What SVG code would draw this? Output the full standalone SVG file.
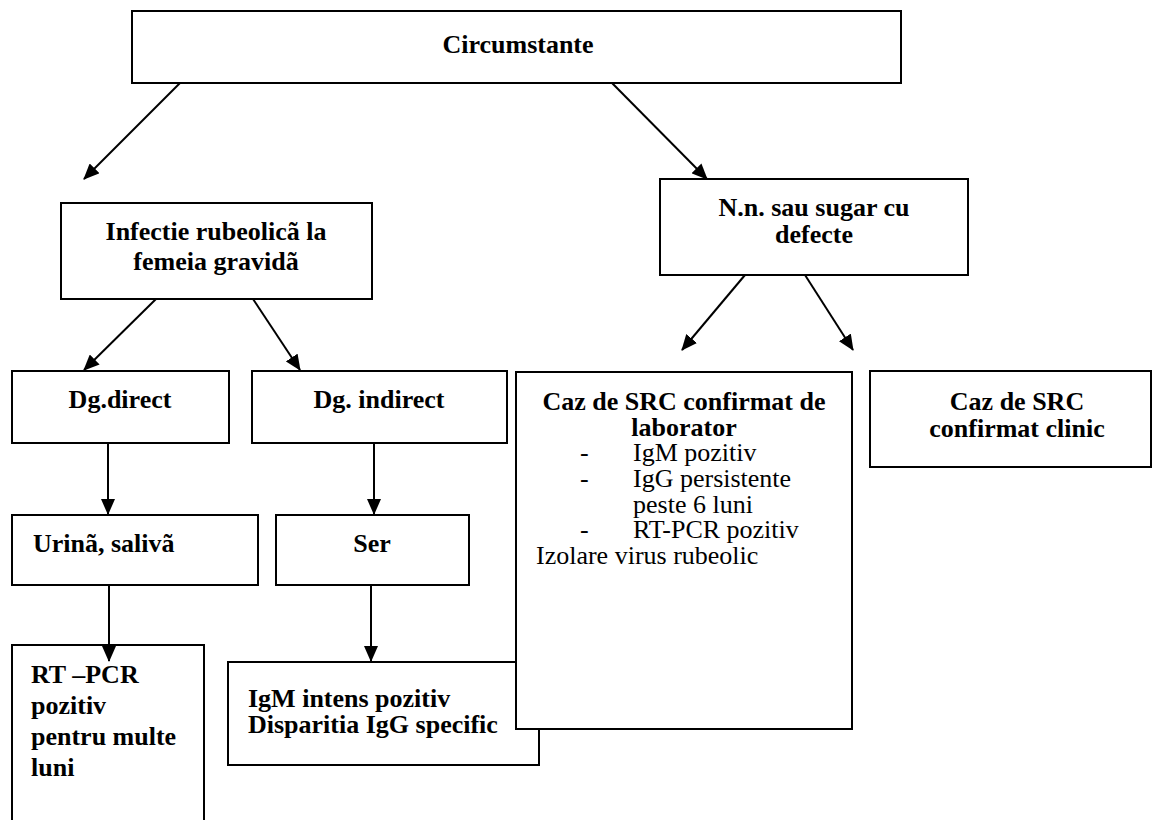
<svg xmlns="http://www.w3.org/2000/svg" width="1152" height="820" viewBox="0 0 1152 820">
<style>
.box{fill:#fff;stroke:#000;stroke-width:2}
.t{font-family:"Liberation Serif","Times New Roman",serif;font-size:26px;fill:#000}
.b{font-weight:bold}
.c{text-anchor:middle}
.ln{stroke:#000;stroke-width:2;fill:none}
</style>
<defs>
<marker id="ah" markerUnits="userSpaceOnUse" markerWidth="16" markerHeight="14" refX="15" refY="7" orient="auto">
<path d="M0,0 L16,7 L0,14 Z" fill="#000"/>
</marker>
</defs>
<rect width="1152" height="820" fill="#fff"/>
<g id="n-top">
<rect class="box" x="132" y="11" width="769" height="72"/>
<text class="t b c" x="518" y="53">Circumstante</text>
</g>
<g id="n-infectie">
<rect class="box" x="61" y="203" width="311" height="96"/>
<text class="t b c" x="216" y="240">Infectie rubeolicã la</text>
<text class="t b c" x="216" y="270">femeia gravidã</text>
</g>
<g id="n-nn">
<rect class="box" x="660" y="179" width="308" height="96"/>
<text class="t b c" x="814" y="216">N.n. sau sugar cu</text>
<text class="t b c" x="814" y="243">defecte</text>
</g>
<g id="n-dgdirect">
<rect class="box" x="12" y="371" width="217" height="72"/>
<text class="t b c" x="120" y="408">Dg.direct</text>
</g>
<g id="n-dgindirect">
<rect class="box" x="252" y="371" width="255" height="72"/>
<text class="t b c" x="379" y="408">Dg. indirect</text>
</g>
<g id="n-urina">
<rect class="box" x="12" y="515" width="246" height="70"/>
<text class="t b" x="33" y="552">Urinã, salivã</text>
</g>
<g id="n-ser">
<rect class="box" x="276" y="515" width="193" height="70"/>
<text class="t b c" x="372" y="552">Ser</text>
</g>
<g id="n-rtpcr">
<rect class="box" x="12" y="645" width="192" height="190"/>
<text class="t b" x="31" y="683">RT –PCR</text>
<text class="t b" x="31" y="714">pozitiv</text>
<text class="t b" x="31" y="745">pentru multe</text>
<text class="t b" x="31" y="776">luni</text>
</g>
<g id="n-igm">
<rect class="box" x="228" y="662" width="311" height="103"/>
<text class="t b" x="248" y="707">IgM intens pozitiv</text>
<text class="t b" x="248" y="733">Disparitia IgG specific</text>
</g>
<g id="n-srclab">
<rect class="box" x="516" y="372" width="336" height="357"/>
<text class="t b c" x="684" y="410">Caz de SRC confirmat de</text>
<text class="t b c" x="684" y="436">laborator</text>
<text class="t" x="580" y="461">-</text>
<text class="t" x="633" y="461">IgM pozitiv</text>
<text class="t" x="580" y="487">-</text>
<text class="t" x="633" y="487">IgG persistente</text>
<text class="t" x="633" y="513">peste 6 luni</text>
<text class="t" x="580" y="538">-</text>
<text class="t" x="633" y="538">RT-PCR pozitiv</text>
<text class="t" x="536" y="564">Izolare virus rubeolic</text>
</g>
<g id="n-srcclin">
<rect class="box" x="870" y="371" width="281" height="96"/>
<text class="t b c" x="1017" y="410">Caz de SRC</text>
<text class="t b c" x="1017" y="437">confirmat clinic</text>
</g>
<g id="connectors">
<line class="ln" x1="180" y1="83" x2="84" y2="179" marker-end="url(#ah)"/>
<line class="ln" x1="612" y1="83" x2="707" y2="179" marker-end="url(#ah)"/>
<line class="ln" x1="156" y1="299" x2="84" y2="370" marker-end="url(#ah)"/>
<line class="ln" x1="253" y1="299" x2="300" y2="370" marker-end="url(#ah)"/>
<line class="ln" x1="745" y1="275" x2="682" y2="350" marker-end="url(#ah)"/>
<line class="ln" x1="805" y1="275" x2="853" y2="350" marker-end="url(#ah)"/>
<line class="ln" x1="108" y1="443" x2="108" y2="514" marker-end="url(#ah)"/>
<line class="ln" x1="374" y1="443" x2="374" y2="514" marker-end="url(#ah)"/>
<line class="ln" x1="109" y1="585" x2="109" y2="661" marker-end="url(#ah)"/>
<line class="ln" x1="371" y1="585" x2="371" y2="661" marker-end="url(#ah)"/>
</g>
</svg>
